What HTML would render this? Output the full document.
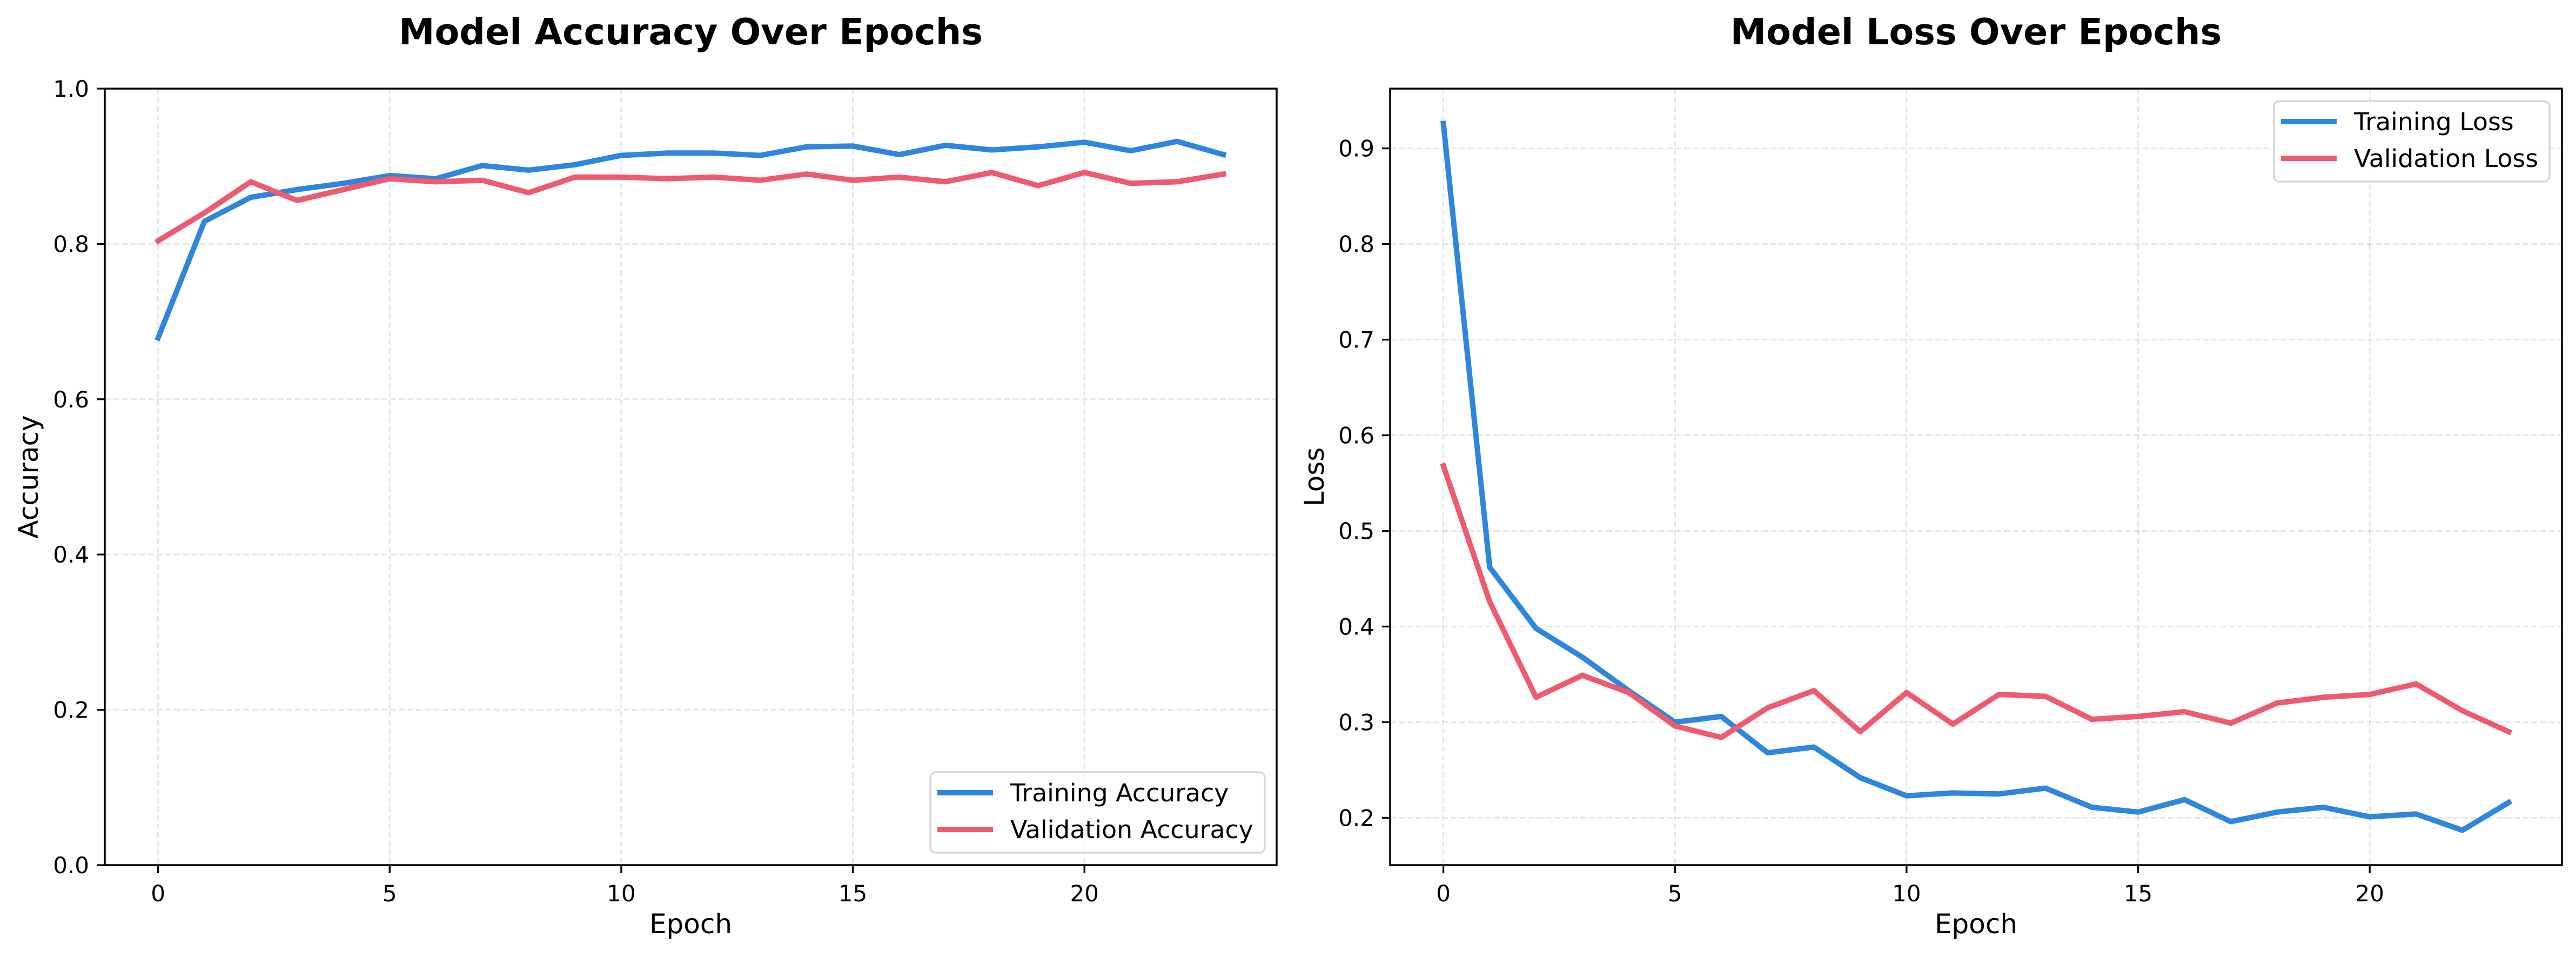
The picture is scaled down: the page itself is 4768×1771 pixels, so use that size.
<!DOCTYPE html>
<html><head><meta charset="utf-8"><style>
html,body{margin:0;padding:0;background:#fff;}
svg{display:block;font-family:"DejaVu Sans","Liberation Sans",sans-serif;}
</style></head><body>
<svg id="chart" width="4768" height="1771" viewBox="0 0 4768 1771" xmlns="http://www.w3.org/2000/svg">
<rect width="4768" height="1771" fill="#fff"/>
</svg>
<script>
const epochs = [0,1,2,3,4,5,6,7,8,9,10,11,12,13,14,15,16,17,18,19,20,21,22,23];
const trainAcc = [0.679,0.829,0.860,0.870,0.878,0.888,0.884,0.901,0.895,0.902,0.914,0.917,0.917,0.914,0.925,0.926,0.915,0.927,0.921,0.925,0.931,0.920,0.932,0.915];
const valAcc = [0.804,0.840,0.880,0.856,0.870,0.884,0.880,0.882,0.866,0.886,0.886,0.884,0.886,0.882,0.890,0.882,0.886,0.880,0.892,0.875,0.892,0.878,0.880,0.890];
const trainLoss = [0.926,0.462,0.398,0.368,0.333,0.300,0.306,0.268,0.274,0.242,0.223,0.226,0.225,0.231,0.211,0.206,0.219,0.196,0.206,0.211,0.201,0.204,0.187,0.216];
const valLoss = [0.568,0.426,0.326,0.349,0.331,0.296,0.284,0.315,0.333,0.290,0.331,0.298,0.329,0.327,0.303,0.306,0.311,0.299,0.320,0.326,0.329,0.340,0.312,0.290];
const xTicks = [0,5,10,15,20];
const accTicks = [0.0,0.2,0.4,0.6,0.8,1.0];
const lossTicks = [0.2,0.3,0.4,0.5,0.6,0.7,0.8,0.9];

const NS = "http://www.w3.org/2000/svg";
const svg = document.getElementById('chart');
function mk(tag, attrs, parent){
  const e = document.createElementNS(NS, tag);
  for (const k in attrs) e.setAttribute(k, attrs[k]);
  (parent||svg).appendChild(e); return e;
}
const BLUE = "#2E86DE", RED = "#EE5A6F";

function panel(cfg){
  const g = mk('g', {});
  
  
  const L=cfg.L, R=cfg.R, T=164, B=1601;
  const xmin=-1.15, xmax=24.15;
  const X = v => L + (v - xmin)/(xmax - xmin)*(R-L);
  const Y = v => B - (v - cfg.ymin)/(cfg.ymax - cfg.ymin)*(B-T);
  xTicks.forEach(t=>{
    const l = mk('line',{x1:X(t),x2:X(t),y1:T,y2:B,stroke:"#b0b0b0","stroke-opacity":0.3,"stroke-width":3,"stroke-dasharray":"11,5"},g);
    
    
  });
  cfg.yTicks.forEach(t=>{
    const l = mk('line',{x1:L,x2:R,y1:Y(t),y2:Y(t),stroke:"#b0b0b0","stroke-opacity":0.3,"stroke-width":3,"stroke-dasharray":"11,5"},g);
    
    
  });
  cfg.series.forEach(s=>{
    const d = epochs.map((e,i)=>(i?'L':'M')+X(e).toFixed(1)+','+Y(s.data[i]).toFixed(1)).join(' ');
    const p = mk('path',{d:d,fill:"none",stroke:s.color,"stroke-width":10,"stroke-linejoin":"round","stroke-linecap":"square"},g);
    
    
  });
  const fr = mk('rect',{x:L,y:T,width:R-L,height:B-T,fill:"none",stroke:"#000","stroke-width":3.5},g);
  
  
  xTicks.forEach(t=>{
    const tk = mk('line',{x1:X(t),x2:X(t),y1:B,y2:B+15,stroke:"#000","stroke-width":3.3},g);
    
    
    const tx = mk('text',{x:X(t),y:B+67,"font-size":42,"text-anchor":"middle",fill:"#000"},g);
    tx.textContent = t;
    
    
  });
  cfg.yTicks.forEach(t=>{
    const tk = mk('line',{x1:L-15,x2:L,y1:Y(t),y2:Y(t),stroke:"#000","stroke-width":3.3},g);
    
    
    const tx = mk('text',{x:L-29,y:Y(t)+15,"font-size":42,"text-anchor":"end",fill:"#000"},g);
    tx.textContent = t.toFixed(1);
    
    
  });
  const xl = mk('text',{x:(L+R)/2,y:1727,"font-size":50,"text-anchor":"middle",fill:"#000"},g);
  xl.textContent = "Epoch";
  
  
  const yl = mk('text',{x:0,y:0,"font-size":50,"text-anchor":"middle",fill:"#000",transform:`translate(${cfg.ylx},${(T+B)/2}) rotate(-90)`},g);
  yl.textContent = cfg.ylabel;
  
  
  const tt = mk('text',{x:(L+R)/2,y:82,"font-size":66.7,"font-weight":"bold","text-anchor":"middle",fill:"#000"},g);
  tt.textContent = cfg.title;
  
  
  const lg = mk('g',{},g);
  
  
  const lb = cfg.leg;
  const box = mk('rect',{x:lb.x,y:lb.y,width:lb.w,height:lb.h,rx:10,fill:"#fff","fill-opacity":0.8,stroke:"#d6d6d6","stroke-width":3.5},lg);
  
  
  cfg.series.forEach((s,i)=>{
    const cy = lb.y + 38 + i*68;
    const ln = mk('line',{x1:lb.x+13,x2:lb.x+116,y1:cy,y2:cy,stroke:s.color,"stroke-width":10},lg);
    
    
    const tx = mk('text',{x:lb.x+148,y:cy+16,"font-size":45.8,fill:"#000"},lg);
    tx.textContent = s.label;
    
    
  });
}

panel({name:'accuracy-panel',L:194,R:2363,ymin:0,ymax:1.0,yTicks:accTicks,ylabel:'Accuracy',ylx:70,
  title:'Model Accuracy Over Epochs',
  leg:{x:1722,y:1429,w:619,h:149},
  series:[{key:'training-accuracy-line',label:'Training Accuracy',color:BLUE,data:trainAcc},
          {key:'validation-accuracy-line',label:'Validation Accuracy',color:RED,data:valAcc}]});
panel({name:'loss-panel',L:2573,R:4742,ymin:0.1505,ymax:0.9625,yTicks:lossTicks,ylabel:'Loss',ylx:2450,
  title:'Model Loss Over Epochs',
  leg:{x:4209,y:187,w:510,h:149},
  series:[{key:'training-loss-line',label:'Training Loss',color:BLUE,data:trainLoss},
          {key:'validation-loss-line',label:'Validation Loss',color:RED,data:valLoss}]});
</script>
</body></html>
